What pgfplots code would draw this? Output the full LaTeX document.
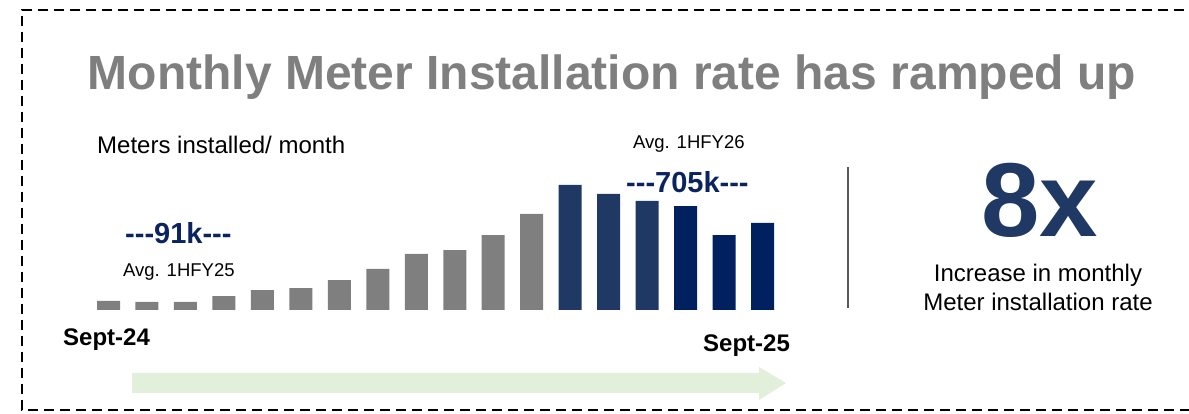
\documentclass[border=0pt]{standalone}
\usepackage{fontspec}
\setmainfont{Liberation Sans}
\usepackage{pgfplots}
\pgfplotsset{compat=1.18}

\definecolor{bargray}{HTML}{7F7F7F}
\definecolor{barslate}{HTML}{203864}
\definecolor{barnavy}{HTML}{002060}
\definecolor{titlegray}{HTML}{7F7F7F}
\definecolor{avgblue}{HTML}{0B2461}
\definecolor{arrowgreen}{HTML}{E2EFDA}
\definecolor{sepline}{HTML}{595959}

\begin{document}
\begin{tikzpicture}
\useasboundingbox (0pt,0pt) rectangle (1189pt,414pt);

% dashed frame, open to the right
\draw[line width=2.8pt, dash pattern=on 10pt off 6pt]
  (1200pt,404pt) -- (22pt,404pt) -- (22pt,4pt) -- (1200pt,4pt);

% title
\node[anchor=base, inner sep=0pt, text=titlegray,
      font=\fontsize{48}{52}\selectfont\bfseries] at (612pt,324pt)
  {Monthly Meter Installation rate has ramped up};

\node[anchor=base west, inner sep=0pt, font=\fontsize{24}{28}\selectfont]
  at (97pt,260.5pt) {Meters installed/ month};

% bars, values in thousands
\begin{axis}[
    at={(89.27pt,104pt)}, anchor=south west,
    scale only axis,
    width=692.5pt, height=145.56pt,
    xmin=0.5, xmax=18.5,
    ymin=0, ymax=1000,
    hide axis,
    clip=false,
    ybar, bar width=23pt
]
\addplot[fill=bargray, draw=none, bar shift=0pt] coordinates {
(1,62)(2,55)(3,55)(4,96)(5,137)(6,151)(7,206)(8,282)(9,385)(10,412)(11,515)(12,660)
};
\addplot[fill=barslate, draw=none, bar shift=0pt] coordinates {
(13,859)(14,797)(15,749)
};
\addplot[fill=barnavy, draw=none, bar shift=0pt] coordinates {
(16,714)(17,515)(18,598)
};
\end{axis}

% averages
\node[anchor=base west, inner sep=0pt, text=avgblue,
      font=\fontsize{29}{32}\selectfont\bfseries] at (125pt,170.5pt) {-{}-{}-91k-{}-{}-};
\node[anchor=base west, inner sep=0pt, font=\fontsize{18.5}{22}\selectfont]
  at (123pt,137.5pt) {Avg. 1HFY25};
\node[anchor=base west, inner sep=0pt, font=\fontsize{18.5}{22}\selectfont]
  at (633pt,265.5pt) {Avg. 1HFY26};
\node[anchor=base west, inner sep=0pt, text=avgblue,
      font=\fontsize{29}{32}\selectfont\bfseries] at (626pt,221.5pt) {-{}-{}-705k-{}-{}-};

% time labels and arrow
\node[anchor=base west, inner sep=0pt, font=\fontsize{24}{28}\selectfont\bfseries]
  at (63pt,68pt) {Sept-24};
\node[anchor=base west, inner sep=0pt, font=\fontsize{24}{28}\selectfont\bfseries]
  at (703pt,62pt) {Sept-25};
\fill[arrowgreen] (132pt,41pt) -- (759pt,41pt) -- (759pt,47pt) -- (786pt,31pt)
  -- (759pt,14pt) -- (759pt,21pt) -- (132pt,21pt) -- cycle;

% separator and headline figure
\draw[sepline, line width=2pt] (848pt,247pt) -- (848pt,106pt);
\node[anchor=base, inner sep=0pt, text=barslate,
      font=\fontsize{105}{110}\selectfont\bfseries] at (1040pt,177pt) {8x};
\node[anchor=base, inner sep=0pt, font=\fontsize{24}{28}\selectfont]
  at (1038pt,132pt) {Increase in monthly};
\node[anchor=base, inner sep=0pt, font=\fontsize{24}{28}\selectfont]
  at (1038pt,103pt) {Meter installation rate};
\end{tikzpicture}
\end{document}
